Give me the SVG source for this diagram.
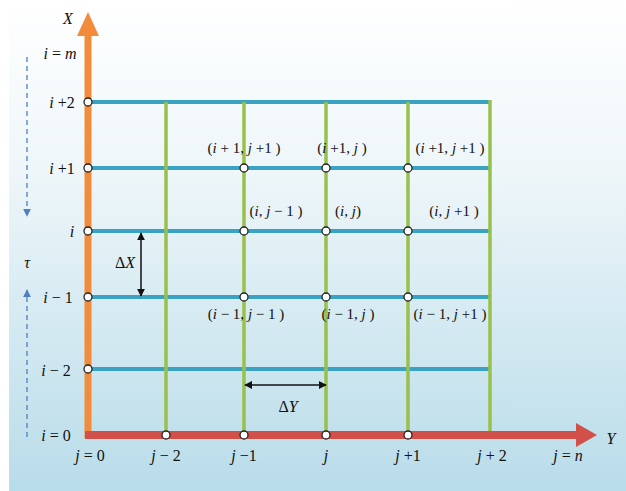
<svg xmlns="http://www.w3.org/2000/svg" width="626" height="491" viewBox="0 0 626 491">
<defs>
<linearGradient id="bg" x1="0" y1="0" x2="0" y2="1">
<stop offset="0" stop-color="#ffffff"/>
<stop offset="0.35" stop-color="#eef6f9"/>
<stop offset="1" stop-color="#b8dce9"/>
</linearGradient>
<marker id="dh" viewBox="0 0 10 10" refX="9" refY="5" markerWidth="8" markerHeight="8" orient="auto-start-reverse" markerUnits="userSpaceOnUse">
<path d="M0,0 L10,5 L0,10 z" fill="#111"/>
</marker>
<marker id="tau" viewBox="0 0 10 10" refX="9" refY="5" markerWidth="8" markerHeight="8" orient="auto" markerUnits="userSpaceOnUse">
<path d="M0,0 L10,5 L0,10 z" fill="#4f7fc0"/>
</marker>
</defs>
<style>
.h{stroke:#3aa2c2;stroke-width:4;fill:none}
.v{stroke:#98c04a;stroke-width:3.5;fill:none}
.n{fill:#fff;stroke:#222;stroke-width:1.3}
.t{font-family:'Liberation Serif','DejaVu Serif',serif;font-size:16px;fill:#111}
.it{font-style:italic}
.s{font-size:15px}
</style>
<rect x="9" y="0" width="617" height="491" fill="url(#bg)"/>
<g id="connectors">
<line class="h" x1="88" y1="102" x2="491" y2="102"/>
<line class="h" x1="88" y1="168" x2="490" y2="168"/>
<line class="h" x1="88" y1="231" x2="490" y2="231"/>
<line class="h" x1="88" y1="297" x2="490" y2="297"/>
<line class="h" x1="88" y1="369" x2="490" y2="369"/>
<line class="v" x1="166" y1="102" x2="166" y2="435"/>
<line class="v" x1="244" y1="102" x2="244" y2="435"/>
<line class="v" x1="326" y1="102" x2="326" y2="435"/>
<line class="v" x1="408" y1="102" x2="408" y2="435"/>
<line class="v" x1="490" y1="100" x2="490" y2="435"/>
<line x1="88" y1="438" x2="88" y2="34" stroke="#f28b3a" stroke-width="7"/>
<polygon points="77,36 99,36 88,12" fill="#f28b3a"/>
<line x1="85" y1="435" x2="578" y2="435" stroke="#d1504a" stroke-width="8"/>
<polygon points="576,423 576,447 597,435" fill="#d1504a"/>
<line x1="141" y1="233" x2="141" y2="296" stroke="#111" stroke-width="1.5" marker-start="url(#dh)" marker-end="url(#dh)"/>
<line x1="245" y1="385" x2="326" y2="385" stroke="#111" stroke-width="1.5" marker-start="url(#dh)" marker-end="url(#dh)"/>
<line x1="27" y1="57" x2="27" y2="216" stroke="#4f7fc0" stroke-width="1.3" stroke-dasharray="5,4" marker-end="url(#tau)"/>
<line x1="27" y1="437" x2="27" y2="290" stroke="#4f7fc0" stroke-width="1.3" stroke-dasharray="5,4" marker-end="url(#tau)"/>
</g>
<g id="nodes">
<circle class="n" cx="88" cy="102" r="4"/>
<circle class="n" cx="88" cy="168" r="4"/>
<circle class="n" cx="88" cy="231" r="4"/>
<circle class="n" cx="88" cy="297" r="4"/>
<circle class="n" cx="88" cy="369" r="4"/>
<circle class="n" cx="244" cy="168" r="4"/>
<circle class="n" cx="326" cy="168" r="4"/>
<circle class="n" cx="408" cy="168" r="4"/>
<circle class="n" cx="244" cy="231" r="4"/>
<circle class="n" cx="326" cy="231" r="4"/>
<circle class="n" cx="408" cy="231" r="4"/>
<circle class="n" cx="244" cy="297" r="4"/>
<circle class="n" cx="326" cy="297" r="4"/>
<circle class="n" cx="408" cy="297" r="4"/>
<circle class="n" cx="166" cy="435" r="4"/>
<circle class="n" cx="244" cy="435" r="4"/>
<circle class="n" cx="326" cy="435" r="4"/>
<circle class="n" cx="408" cy="435" r="4"/>
</g>
<g id="labels" font-family="'Liberation Serif','DejaVu Serif',serif">
<text class="t it" x="68" y="24" font-size="18" text-anchor="middle">X</text>
<text class="t" x="60" y="59" text-anchor="middle"><tspan class="it">i</tspan> = <tspan class="it">m</tspan></text>
<text class="t" x="62" y="108" text-anchor="middle"><tspan class="it">i</tspan> +2</text>
<text class="t" x="62" y="174" text-anchor="middle"><tspan class="it">i</tspan> +1</text>
<text class="t it" x="72" y="237" text-anchor="middle">i</text>
<text class="t" x="58" y="303" text-anchor="middle"><tspan class="it">i</tspan> − 1</text>
<text class="t" x="56" y="376" text-anchor="middle"><tspan class="it">i</tspan> − 2</text>
<text class="t" x="56" y="441" text-anchor="middle"><tspan class="it">i</tspan> = 0</text>
<text class="t" x="90" y="461" text-anchor="middle"><tspan class="it">j</tspan> = 0</text>
<text class="t" x="166" y="461" text-anchor="middle"><tspan class="it">j</tspan> − 2</text>
<text class="t" x="244" y="461" text-anchor="middle"><tspan class="it">j</tspan> −1</text>
<text class="t it" x="326" y="461" text-anchor="middle">j</text>
<text class="t" x="408" y="461" text-anchor="middle"><tspan class="it">j</tspan> +1</text>
<text class="t" x="492" y="461" text-anchor="middle"><tspan class="it">j</tspan> + 2</text>
<text class="t" x="568" y="461" text-anchor="middle"><tspan class="it">j</tspan> = <tspan class="it">n</tspan></text>
<text class="t it" x="611" y="444" font-size="18" text-anchor="middle">Y</text>
<text class="t it" x="27" y="268" font-size="17" text-anchor="middle">τ</text>
<text class="t" x="125" y="268" font-size="17" text-anchor="middle">Δ<tspan class="it">X</tspan></text>
<text class="t" x="288" y="412" font-size="17" text-anchor="middle">Δ<tspan class="it">Y</tspan></text>
<text class="t s" x="244" y="153" text-anchor="middle">(<tspan class="it">i</tspan> + 1, <tspan class="it">j</tspan> +1 )</text>
<text class="t s" x="342" y="153" text-anchor="middle">(<tspan class="it">i</tspan> +1, <tspan class="it">j</tspan> )</text>
<text class="t s" x="450" y="153" text-anchor="middle">(<tspan class="it">i</tspan> +1, <tspan class="it">j</tspan> +1 )</text>
<text class="t s" x="276" y="216" text-anchor="middle">(<tspan class="it">i</tspan>, <tspan class="it">j</tspan> − 1 )</text>
<text class="t s" x="348" y="216" text-anchor="middle">(<tspan class="it">i</tspan>, <tspan class="it">j</tspan>)</text>
<text class="t s" x="454" y="216" text-anchor="middle">(<tspan class="it">i</tspan>, <tspan class="it">j</tspan> +1 )</text>
<text class="t s" x="246" y="319" text-anchor="middle">(<tspan class="it">i</tspan> − 1, <tspan class="it">j</tspan> − 1 )</text>
<text class="t s" x="348" y="319" text-anchor="middle">(<tspan class="it">i</tspan> − 1, <tspan class="it">j</tspan> )</text>
<text class="t s" x="450" y="319" text-anchor="middle">(<tspan class="it">i</tspan> − 1, <tspan class="it">j</tspan> +1 )</text>
</g>
</svg>
